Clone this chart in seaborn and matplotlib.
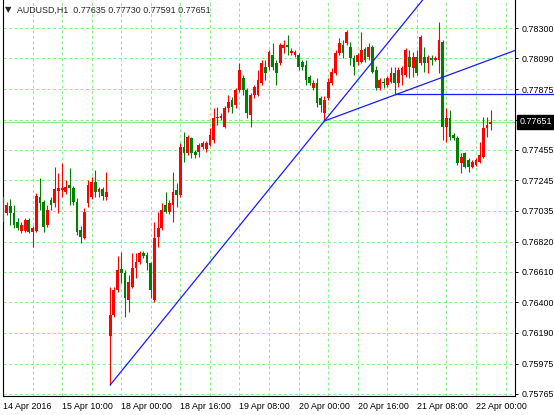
import numpy as np
import pandas as pd
import seaborn as sns
import matplotlib.pyplot as plt
from matplotlib.transforms import blended_transform_factory

# AUDUSD H1 candles, 14 Apr 2016 .. 22 Apr 2016
opens = [
    0.77130, 0.77019, 0.77067, 0.77019, 0.76956, 0.76894, 0.76894, 0.76970, 0.76887, 0.76894,
    0.77130, 0.77095, 0.76936, 0.77109, 0.77088, 0.77171, 0.77178, 0.77164, 0.77213, 0.77192,
    0.77095, 0.76901, 0.76846, 0.77088, 0.77130, 0.77233, 0.77164, 0.77185, 0.77130, 0.76167,
    0.76312, 0.76485, 0.76631, 0.76603, 0.76416, 0.76506, 0.76638, 0.76679, 0.76742, 0.76728,
    0.76672, 0.76416, 0.76853, 0.76915, 0.77074, 0.77026, 0.77074, 0.77178, 0.77143, 0.77476,
    0.77434, 0.77538, 0.77441, 0.77441, 0.77476, 0.77462, 0.77490, 0.77524, 0.77677, 0.77677,
    0.77614, 0.77746, 0.77801, 0.77767, 0.77871, 0.77954, 0.77871, 0.77698, 0.77836, 0.77836,
    0.77919, 0.78030, 0.78030, 0.78113, 0.78058, 0.78058, 0.78162, 0.78182, 0.78127, 0.78113,
    0.78113, 0.78065, 0.78044, 0.77961, 0.77884, 0.77919, 0.77815, 0.77711, 0.77815, 0.77919,
    0.77988, 0.78127, 0.78182, 0.78196, 0.78168, 0.78092, 0.78065, 0.78065, 0.78155, 0.78099,
    0.78168, 0.78009, 0.77884, 0.77926, 0.77905, 0.77926, 0.77988, 0.77919, 0.77974, 0.77974,
    0.78099, 0.78023, 0.78099, 0.78058, 0.78099, 0.78058, 0.78092, 0.78078, 0.78078, 0.78203,
    0.77614, 0.77677, 0.77559, 0.77538, 0.77365, 0.77434, 0.77386, 0.77337, 0.77351, 0.77372,
    0.77407, 0.77607, 0.77635]
highs = [
    0.77143, 0.77095, 0.77116, 0.77074, 0.76984, 0.76956, 0.76984, 0.76984, 0.76929, 0.77157,
    0.77261, 0.77109, 0.77074, 0.77130, 0.77337, 0.77296, 0.77365, 0.77247, 0.77330, 0.77206,
    0.77123, 0.76929, 0.77053, 0.77247, 0.77268, 0.77317, 0.77199, 0.77199, 0.77303, 0.76506,
    0.76506, 0.76721, 0.76749, 0.76624, 0.76589, 0.76742, 0.76742, 0.76756, 0.76756, 0.76749,
    0.76679, 0.76956, 0.77026, 0.77088, 0.77164, 0.77109, 0.77303, 0.77227, 0.77504, 0.77580,
    0.77559, 0.77545, 0.77455, 0.77504, 0.77517, 0.77517, 0.77607, 0.77746, 0.77753, 0.77711,
    0.77760, 0.77836, 0.77822, 0.77884, 0.78058, 0.77974, 0.77884, 0.77850, 0.77905, 0.78009,
    0.78078, 0.78078, 0.78148, 0.78196, 0.78078, 0.78196, 0.78217, 0.78252, 0.78162, 0.78148,
    0.78127, 0.78078, 0.78078, 0.77974, 0.77940, 0.77954, 0.77829, 0.77829, 0.77954, 0.78023,
    0.78148, 0.78231, 0.78217, 0.78286, 0.78203, 0.78113, 0.78127, 0.78272, 0.78168, 0.78196,
    0.78182, 0.78037, 0.77954, 0.77954, 0.77968, 0.78030, 0.78030, 0.78030, 0.78037, 0.78162,
    0.78148, 0.78134, 0.78148, 0.78252, 0.78168, 0.78113, 0.78113, 0.78106, 0.78342, 0.78217,
    0.77746, 0.77732, 0.77573, 0.77552, 0.77434, 0.77441, 0.77400, 0.77386, 0.77400, 0.77510,
    0.77684, 0.77684, 0.77730]
lows = [
    0.76943, 0.77005, 0.76936, 0.76915, 0.76901, 0.76880, 0.76887, 0.76880, 0.76783, 0.76887,
    0.77040, 0.76887, 0.76922, 0.77040, 0.77060, 0.77019, 0.77130, 0.77150, 0.77074, 0.77074,
    0.76866, 0.76811, 0.76839, 0.77060, 0.77116, 0.77130, 0.77130, 0.77109, 0.77109, 0.75827,
    0.76298, 0.76472, 0.76534, 0.76298, 0.76333, 0.76499, 0.76569, 0.76666, 0.76707, 0.76624,
    0.76430, 0.76402, 0.76783, 0.76901, 0.77019, 0.77012, 0.76956, 0.77060, 0.77130, 0.77372,
    0.77420, 0.77400, 0.77400, 0.77407, 0.77462, 0.77441, 0.77483, 0.77504, 0.77628, 0.77663,
    0.77607, 0.77718, 0.77711, 0.77746, 0.77857, 0.77836, 0.77677, 0.77614, 0.77815, 0.77829,
    0.77905, 0.77940, 0.78009, 0.78009, 0.77905, 0.78044, 0.78127, 0.78113, 0.78113, 0.78099,
    0.78009, 0.78009, 0.77905, 0.77905, 0.77871, 0.77753, 0.77718, 0.77656, 0.77801, 0.77905,
    0.77974, 0.78113, 0.78092, 0.78182, 0.78044, 0.77974, 0.78044, 0.78058, 0.78065, 0.78078,
    0.77988, 0.77871, 0.77871, 0.77884, 0.77891, 0.77919, 0.77836, 0.77891, 0.77905, 0.77961,
    0.77954, 0.77961, 0.77974, 0.78044, 0.77995, 0.77988, 0.78044, 0.78072, 0.77988, 0.77524,
    0.77510, 0.77524, 0.77524, 0.77351, 0.77296, 0.77330, 0.77303, 0.77330, 0.77344, 0.77365,
    0.77400, 0.77545, 0.77591]
closes = [
    0.76956, 0.77074, 0.77019, 0.76936, 0.76915, 0.76936, 0.76970, 0.76887, 0.76915, 0.77137,
    0.77088, 0.76922, 0.77040, 0.77074, 0.77185, 0.77192, 0.77192, 0.77199, 0.77192, 0.77095,
    0.76887, 0.76853, 0.77026, 0.77213, 0.77233, 0.77164, 0.77185, 0.77137, 0.77164, 0.76312,
    0.76485, 0.76624, 0.76603, 0.76430, 0.76541, 0.76638, 0.76679, 0.76742, 0.76721, 0.76672,
    0.76485, 0.76846, 0.76915, 0.77040, 0.77026, 0.77088, 0.77164, 0.77143, 0.77476, 0.77434,
    0.77545, 0.77434, 0.77420, 0.77490, 0.77504, 0.77504, 0.77559, 0.77677, 0.77684, 0.77691,
    0.77746, 0.77788, 0.77753, 0.77871, 0.78009, 0.77871, 0.77711, 0.77836, 0.77891, 0.77940,
    0.78058, 0.77988, 0.78134, 0.78030, 0.77988, 0.78182, 0.78182, 0.78168, 0.78141, 0.78134,
    0.78030, 0.78030, 0.77940, 0.77919, 0.77919, 0.77781, 0.77767, 0.77801, 0.77926, 0.77995,
    0.78127, 0.78196, 0.78127, 0.78272, 0.78092, 0.78030, 0.78113, 0.78148, 0.78078, 0.78168,
    0.77995, 0.77884, 0.77940, 0.77919, 0.77954, 0.77988, 0.77919, 0.78009, 0.78023, 0.78148,
    0.78030, 0.78099, 0.77988, 0.78238, 0.78058, 0.78099, 0.78078, 0.78092, 0.78217, 0.77614,
    0.77677, 0.77545, 0.77538, 0.77365, 0.77407, 0.77337, 0.77337, 0.77372, 0.77386, 0.77420,
    0.77607, 0.77628, 0.77651]

# time axis labels (every 16 bars)
xtick_bars = [0, 16, 32, 48, 64, 80, 96, 112, 128]
xtick_labels = ["14 Apr 2016", "15 Apr 10:00", "18 Apr 00:00", "18 Apr 16:00",
                "19 Apr 08:00", "20 Apr 00:00", "20 Apr 16:00", "21 Apr 08:00",
                "22 Apr 00:00"]

# price scale
ytick_values = [0.78300, 0.78090, 0.77875, 0.77665, 0.77455, 0.77245, 0.77035,
                0.76820, 0.76610, 0.76400, 0.76190, 0.75975, 0.75765]
ytick_labels = ["0.78300", "0.78090", "0.77875", "", "0.77455", "0.77245", "0.77035",
                "0.76820", "0.76610", "0.76400", "0.76190", "0.75975", "0.75765"]

# drawn trendlines: (bar, price) anchors
trend1 = ([29, 87], [0.75827, 0.77656])
trend2 = ([87, 106], [0.77656, 0.77836])
level_bar = 106
level_price = 0.77840

title = "AUDUSD,H1  0.77635 0.77730 0.77591 0.77651"

df = pd.DataFrame({"open": opens, "high": highs, "low": lows, "close": closes})
df["bar"] = np.arange(len(df))
df["color"] = np.where(df["close"] >= df["open"], "#ff0000", "#008000")

sns.set_style("white")
plt.rcParams['font.family'] = ['Liberation Sans', 'DejaVu Sans']

fig = plt.figure(figsize=(5.54, 4.15), dpi=100)
ax = fig.add_axes([2.5 / 554, 1 - 396 / 415, 512.5 / 554, 396 / 415])
ax.set_facecolor("white")

grid_kw = dict(color="#90ee90", lw=0.72, dashes=(3, 2.5), zorder=0)
for v in ytick_values:
    ax.axhline(v, **grid_kw)
for b in range(8, 140, 8):
    ax.axvline(b, **grid_kw)
ax.axhline(closes[-1], color="#90ee90", lw=0.9, zorder=0.5)

# candles
ax.vlines(df["bar"], df["low"], df["high"], colors=df["color"], lw=0.8, zorder=2)
body = np.maximum((df["close"] - df["open"]).abs(), 0.00005)
ax.bar(df["bar"], body, bottom=np.minimum(df["open"], df["close"]),
       width=0.75, color=df["color"], lw=0, zorder=3)

# trendlines: first one runs off the top, second stops at the price axis
for (xs, ys), x_end in [(trend1, 160), (trend2, 138.57)]:
    slope = (ys[1] - ys[0]) / (xs[1] - xs[0])
    sns.lineplot(x=[xs[0], x_end], y=[ys[0], ys[0] + slope * (x_end - xs[0])],
                 ax=ax, color="#1a1aff", lw=0.9, estimator=None, sort=False, zorder=4)
ax.plot([level_bar, 149.2], [level_price, level_price], color="#1a1aff", lw=0.9,
        clip_on=False, zorder=4)

ax.set_xlim(-0.135, 138.57)
ax.set_ylim(0.75751, 0.78494)

ax.yaxis.tick_right()
ax.set_yticks(ytick_values)
ax.set_yticklabels(ytick_labels)
ax.set_xticks(xtick_bars)
ax.set_xticklabels(xtick_labels, ha="left")
ax.tick_params(axis="both", direction="out", length=2.5, width=0.7, pad=2,
               labelsize=6.4, colors="black")
ax.set_xlabel("")
ax.set_ylabel("")

for s in ["left", "bottom", "right"]:
    ax.spines[s].set_visible(True)
    ax.spines[s].set_color("black")
    ax.spines[s].set_linewidth(0.8)
ax.spines["top"].set_visible(False)

# current price box
trans = blended_transform_factory(ax.transAxes, ax.transData)
ax.text(1.009, closes[-1], f"{closes[-1]:.5f}", transform=trans, ha="left", va="center",
        fontsize=6.4, color="white", zorder=6, clip_on=False,
        bbox=dict(boxstyle="square,pad=0.3", fc="black", ec="black"))

fig.text(5 / 554, 1 - 10 / 415, "\u25bc", fontsize=6, va="center", family="DejaVu Sans")
fig.text(17 / 554, 1 - 10 / 415, title, fontsize=6.4, va="center")

fig.savefig("out.png", dpi=100)
